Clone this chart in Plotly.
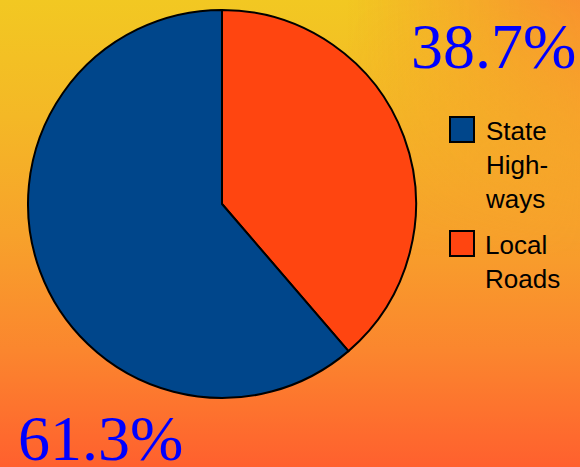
import base64
import plotly.graph_objects as go

# pie order (clockwise from 12 o'clock)
labels = ["Local Roads", "State Highways"]
values = [38.7, 61.3]
colors = ["#FF4510", "#00468B"]

# legend order and wrapped text
legend_idx = [1, 0]
legend_text = ["Local<br>Roads", "State<br>High-<br>ways"]

W, H = 580, 467

# background gradient: yellow top -> orange-red bottom, orange towards top-right
svg = f"""<svg xmlns="http://www.w3.org/2000/svg" width="{W}" height="{H}" viewBox="0 0 {W} {H}" preserveAspectRatio="none">
<defs>
<linearGradient id="v" x1="0" y1="0" x2="0" y2="1">
<stop offset="0" stop-color="#F2C822"/>
<stop offset="0.25" stop-color="#F4B826"/>
<stop offset="0.5" stop-color="#F7A22B"/>
<stop offset="0.75" stop-color="#FB862E"/>
<stop offset="1" stop-color="#FF602E"/>
</linearGradient>
<linearGradient id="h" x1="0" y1="0" x2="1" y2="0">
<stop offset="0.6" stop-color="#F8922E" stop-opacity="0"/>
<stop offset="1" stop-color="#F8922E" stop-opacity="1"/>
</linearGradient>
<linearGradient id="fade" x1="0" y1="0" x2="0" y2="1">
<stop offset="0" stop-color="white"/>
<stop offset="0.55" stop-color="black"/>
</linearGradient>
<mask id="m"><rect width="{W}" height="{H}" fill="url(#fade)"/></mask>
</defs>
<rect width="{W}" height="{H}" fill="url(#v)"/>
<rect width="{W}" height="{H}" fill="url(#h)" mask="url(#m)"/>
</svg>"""
bg = "data:image/svg+xml;base64," + base64.b64encode(svg.encode()).decode()

fig = go.Figure()
fig.add_trace(go.Pie(
    labels=labels, values=values, sort=False, direction="clockwise",
    marker=dict(colors=colors, line=dict(color="black", width=2)),
    textinfo="none", hoverinfo="label+percent",
    domain=dict(x=[28 / W, 416 / W], y=[1 - 398 / H, 1 - 10 / H]),
    showlegend=False,
))

# percentage labels
pct_pos = [(409, 47), (16, 438)]
for v, (px, py) in zip(values, pct_pos):
    fig.add_annotation(
        x=px / W, y=1 - py / H, xref="paper", yref="paper",
        xanchor="left", yanchor="middle", showarrow=False,
        text=f"{v:.1f}%",
        font=dict(family="Liberation Serif", size=64, color="#0000FF"),
    )

# legend drawn by hand so the swatches match the large text
leg_y = [117, 231]
for i, t, y0 in zip(legend_idx, legend_text[::-1], leg_y):
    fig.add_shape(type="rect", xref="paper", yref="paper",
                  x0=450 / W, x1=474 / W, y0=1 - (y0 + 25) / H, y1=1 - y0 / H,
                  fillcolor=colors[i], line=dict(color="black", width=2))
    fig.add_annotation(
        x=483 / W, y=1 - (y0 - 3) / H, xref="paper", yref="paper",
        xanchor="left", yanchor="top", align="left", showarrow=False,
        text=t, font=dict(family="Liberation Sans", size=26, color="black"),
    )

fig.update_layout(
    width=W, height=H,
    margin=dict(l=0, r=0, t=0, b=0),
    paper_bgcolor="rgba(0,0,0,0)", plot_bgcolor="rgba(0,0,0,0)",
    images=[dict(source=bg, xref="paper", yref="paper", x=0, y=1,
                 sizex=1, sizey=1, sizing="stretch", layer="below")],
)

fig.write_html("out.html", config={"displayModeBar": False},
               post_script="document.body.style.margin='0';document.body.style.overflow='hidden';")
